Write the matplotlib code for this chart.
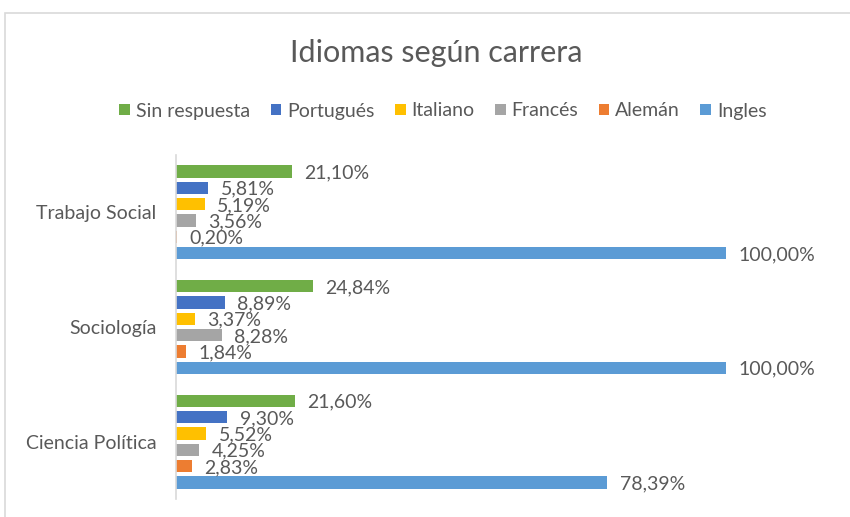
import matplotlib.pyplot as plt
from matplotlib.patches import Rectangle
import numpy as np

plt.rcParams['font.family'] = ['Lato', 'DejaVu Sans']

# -------------------------- data --------------------------
careers = ['Ciencia Política', 'Sociología', 'Trabajo Social']
series = ['Sin respuesta', 'Portugués', 'Italiano', 'Francés', 'Alemán', 'Ingles']
sin_respuesta = [21.60, 24.84, 21.10]
portugues = [9.30, 8.89, 5.81]
italiano = [5.52, 3.37, 5.19]
frances = [4.25, 8.28, 3.56]
aleman = [2.83, 1.84, 0.20]
ingles = [78.39, 100.00, 100.00]
values = [sin_respuesta, portugues, italiano, frances, aleman, ingles]

colors = ['#70AD47', '#4472C4', '#FFC000', '#A5A5A5', '#ED7D31', '#5B9BD5']
text_color = '#595959'

# -------------------------- plot --------------------------
fig = plt.figure(figsize=(8.5, 5.17), dpi=100)
ax = fig.add_axes([176 / 850, 18 / 517, 650 / 850, 344 / 517])

# chart frame (Excel style)
fig.patches.append(Rectangle((5 / 850, -0.1), 1.2, (517 - 13) / 517 + 0.1,
                             transform=fig.transFigure, fill=False,
                             edgecolor='#D9D9D9', linewidth=1.2))

y = np.arange(len(careers))
slot = 1 / 7
bar_h = 0.108
for i, (name, vals, c) in enumerate(zip(series, values, colors)):
    pos = y + (2.5 - i) * slot
    ax.barh(pos, vals, height=bar_h, color=c, label=name)
    for p, v in zip(pos, vals):
        ax.annotate(f"{v:.2f}".replace('.', ',') + '%', xy=(v, p), xytext=(9, -1),
                    textcoords='offset points', va='center', ha='left',
                    fontsize=14, color=text_color)

ax.set_xlim(0, 650 / 5.5)
ax.set_ylim(-0.5, 2.5)
ax.set_yticks(y)
ax.set_yticklabels(careers, fontsize=14, color=text_color)
ax.tick_params(axis='y', length=0, pad=14)
ax.set_xticks([])
for s in ['top', 'right', 'bottom']:
    ax.spines[s].set_visible(False)
ax.spines['left'].set_color('#D9D9D9')
ax.spines['left'].set_linewidth(1.2)

fig.text(436 / 850, 1 - 53 / 517, 'Idiomas según carrera', ha='center', va='center',
         fontsize=22, color=text_color)

handles, labels = ax.get_legend_handles_labels()
fig.legend(handles, labels, loc='center', bbox_to_anchor=(443 / 850, 1 - 111 / 517),
           ncol=6, frameon=False, fontsize=14, labelcolor=text_color,
           handlelength=0.55, handleheight=0.55, handletextpad=0.3, columnspacing=1.05)

plt.savefig('out.png', dpi=100)
